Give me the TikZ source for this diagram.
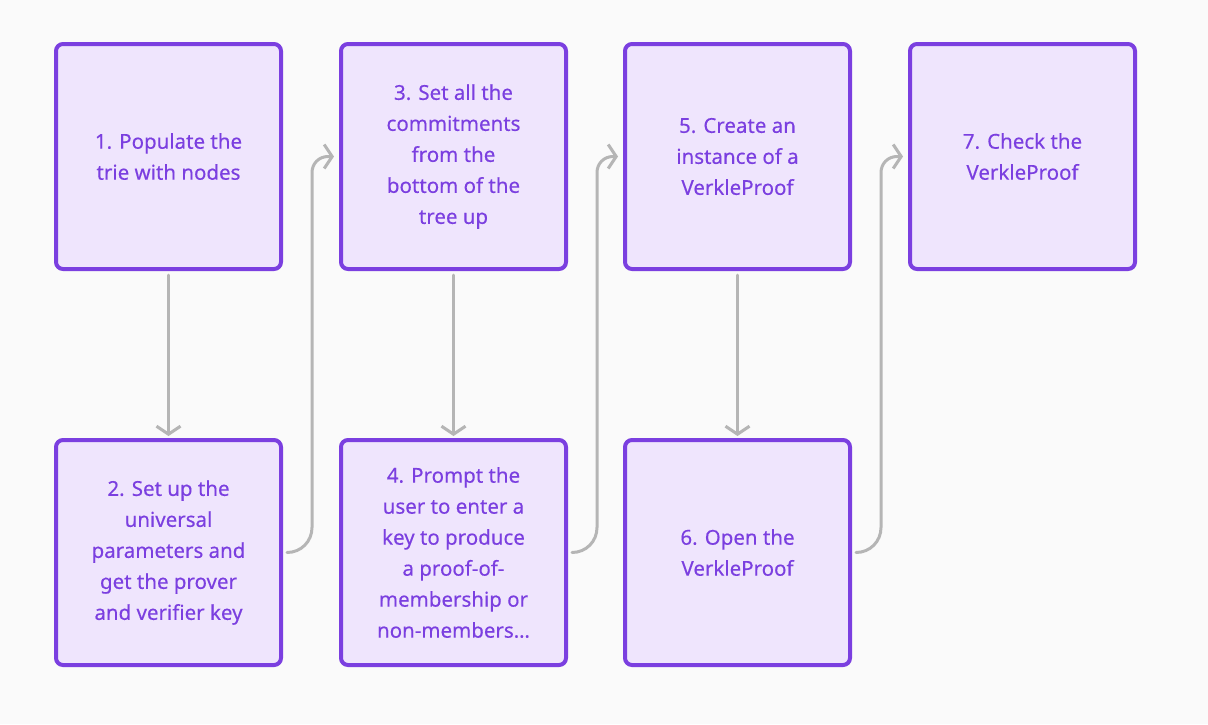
\documentclass[tikz,border=0pt]{standalone}
\usepackage{fontspec}
\setmainfont[FakeBold=0.3]{Noto Sans}
\usetikzlibrary{arrows.meta}
\definecolor{bgc}{HTML}{FAFAFA}
\definecolor{boxline}{HTML}{7B3FE0}
\definecolor{boxfill}{HTML}{EFE5FD}
\definecolor{txtc}{HTML}{7B3FE0}
\definecolor{conn}{HTML}{B5B5B5}
\tikzset{
  x=1pt, y=-1pt,
  stepbox/.style={draw=boxline, fill=boxfill, line width=4pt, rounded corners=7pt,
    minimum width=225pt, minimum height=225pt, inner sep=0pt, anchor=north west},
  steptext/.style={text=txtc, align=center, font=\fontsize{20.5pt}{31pt}\selectfont, inner sep=0pt},
  conn/.style={draw=conn, line width=3pt, line cap=round, line join=round,
    -{Straight Barb[length=8pt,width=24pt,line width=3pt]}},
}
\begin{document}
\begin{tikzpicture}
\fill[bgc] (0,0) rectangle (1208,724);
\useasboundingbox (0,0) rectangle (1208,724);
\node[stepbox] (b1) at (54,42) {};
\node[stepbox] (b2) at (54,438) {};
\node[stepbox] (b3) at (339,42) {};
\node[stepbox] (b4) at (339,438) {};
\node[stepbox] (b5) at (623,42) {};
\node[stepbox] (b6) at (623,438) {};
\node[stepbox] (b7) at (908,42) {};
\node[steptext] (t1) at (b1.center) {1. Populate the\\trie with nodes};
\node[steptext] (t2) at (b2.center) {2. Set up the\\universal\\parameters and\\get the prover\\and verifier key};
\node[steptext] (t3) at (b3.center) {3. Set all the\\commitments\\from the\\bottom of the\\tree up};
\node[steptext] (t4) at (b4.center) {4. Prompt the\\user to enter a\\key to produce\\a proof-of-\\membership or\\non-members…};
\node[steptext] (t5) at (b5.center) {5. Create an\\instance of a\\VerkleProof};
\node[steptext] (t6) at (b6.center) {6. Open the\\VerkleProof};
\node[steptext] (t7) at (b7.center) {7. Check the\\VerkleProof};
% vertical arrows
\draw[conn] ([yshift=-4pt]b1.south) -- ([yshift=2pt]b2.north);
\draw[conn] ([yshift=-4pt]b3.south) -- ([yshift=2pt]b4.north);
\draw[conn] ([yshift=-4pt]b5.south) -- ([yshift=2pt]b6.north);
% S connectors
\coordinate (s1) at ([xshift=29pt]b2.east |- b3.center);
\coordinate (s2) at ([xshift=29pt]b4.east |- b5.center);
\coordinate (s3) at ([xshift=29pt]b6.east |- b7.center);
\draw[conn] ([xshift=4pt]b2.east) .. controls +(14,0) and +(0,14) .. ++(25,-25)
  -- ([yshift=-16pt]s1) .. controls +(0,-9) and +(-9,0) .. ++(16,-16) -- ([xshift=-5pt]b3.west);
\draw[conn] ([xshift=4pt]b4.east) .. controls +(14,0) and +(0,14) .. ++(25,-25)
  -- ([yshift=-16pt]s2) .. controls +(0,-9) and +(-9,0) .. ++(16,-16) -- ([xshift=-5pt]b5.west);
\draw[conn] ([xshift=4pt]b6.east) .. controls +(14,0) and +(0,14) .. ++(25,-25)
  -- ([yshift=-16pt]s3) .. controls +(0,-9) and +(-9,0) .. ++(16,-16) -- ([xshift=-5pt]b7.west);
\end{tikzpicture}
\end{document}
